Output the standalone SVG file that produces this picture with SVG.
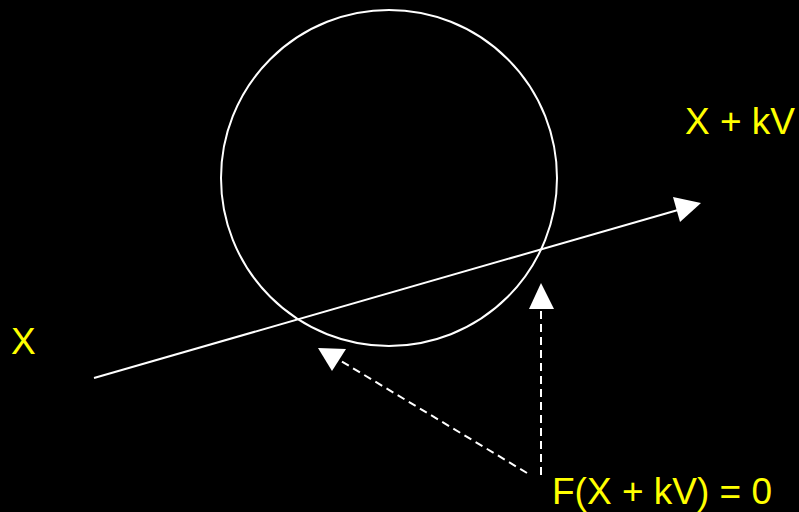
<svg xmlns="http://www.w3.org/2000/svg" width="799" height="512" viewBox="0 0 799 512">
<style>
.lbl{font-family:"Liberation Sans",Arial,sans-serif;font-size:37px;fill:#ffff00}
.ln{stroke:#fff;stroke-width:2;fill:none}
.dash{stroke-dasharray:8,5}
.head{fill:#fff;stroke:none}
</style>
<rect width="799" height="512" fill="#000"/>
<g id="circle"><circle cx="389" cy="178" r="168" class="ln"/></g>
<g id="labels">
<text class="lbl" x="11" y="354">X</text>
<text class="lbl" x="685" y="134">X + kV</text>
<text class="lbl" x="552" y="504">F(X + kV) = 0</text>
</g>
<g id="connectors">
<line x1="94" y1="378" x2="678" y2="210" class="ln"/>
<polygon class="head" points="701,203 673,197 680,222"/>
<line x1="527" y1="473" x2="336" y2="358" class="ln dash"/>
<polygon class="head" points="318,348 346,349 332,371"/>
<line x1="541" y1="475" x2="541" y2="309" class="ln dash"/>
<polygon class="head" points="541,283 529,309 554,309"/>
</g>
</svg>
